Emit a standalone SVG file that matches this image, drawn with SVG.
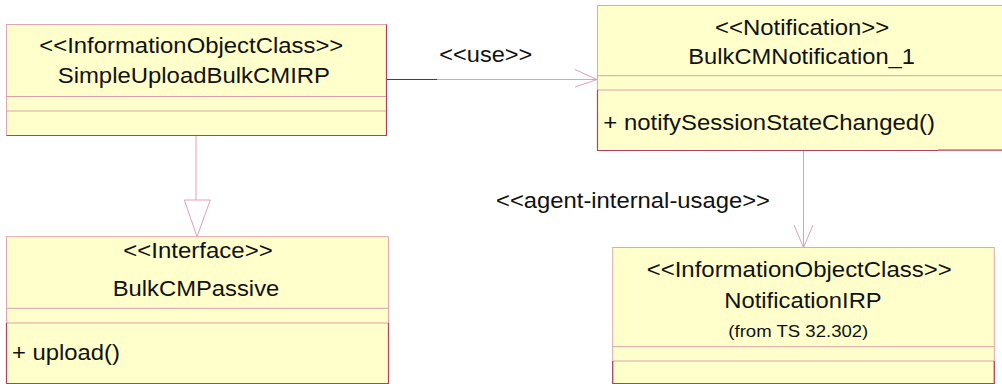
<svg xmlns="http://www.w3.org/2000/svg" width="1002" height="384" viewBox="0 0 1002 384">
<style>
.box{fill:#FFFFCC;stroke:#E2A6B2;stroke-width:1}
.dark{stroke:#B2405E;stroke-width:1.2;fill:none}
.div{stroke:#DDA0A8;stroke-width:1;fill:none}
.con{stroke:#E2A0B4;stroke-width:1;fill:none}
text{font-family:"Liberation Sans",Arial,sans-serif;font-size:21.5px;fill:#111}
.sm{font-size:16px}
</style>
<rect width="1002" height="384" fill="#FFFFFF"/>
<g id="connectors">
<line class="dark" x1="386" y1="79.5" x2="437" y2="79.5" style="stroke:#901848"/>
<line class="con" x1="437" y1="79.5" x2="597" y2="79.5"/>
<polyline class="con" points="575,69.5 597,79.5 575,87"/>
<text x="439.3" y="62.3" textLength="93" lengthAdjust="spacingAndGlyphs">&lt;&lt;use&gt;&gt;</text>
<line class="con" x1="196" y1="136" x2="196" y2="200"/>
<polygon class="con" points="184.3,200 210.3,200 197,236.7" fill="#FFFFFF"/>
<line class="con" x1="803.5" y1="151" x2="803.5" y2="247"/>
<polyline class="con" points="794,225 803.5,247.5 813,225"/>
<text x="496" y="208.3" textLength="274" lengthAdjust="spacingAndGlyphs">&lt;&lt;agent-internal-usage&gt;&gt;</text>
</g>
<g id="SimpleUploadBulkCMIRP">
<rect class="box" x="6.5" y="24.5" width="380" height="111"/>
<line class="div" x1="6.5" y1="96.5" x2="386.5" y2="96.5"/>
<line class="div" x1="6.5" y1="111" x2="386.5" y2="111"/>
<polyline class="dark" points="386.5,24.5 386.5,135.5 6.5,135.5"/>
<text x="39.3" y="53.3" textLength="304" lengthAdjust="spacingAndGlyphs">&lt;&lt;InformationObjectClass&gt;&gt;</text>
<text x="57.7" y="83.3" textLength="272.3" lengthAdjust="spacingAndGlyphs">SimpleUploadBulkCMIRP</text>
</g>
<g id="BulkCMNotification_1">
<rect class="box" x="597.5" y="5.5" width="420" height="145"/>
<line class="div" x1="597.5" y1="75.7" x2="1002" y2="75.7"/>
<line class="div" x1="597.5" y1="90" x2="1002" y2="90"/>
<polyline class="dark" points="597.5,90 597.5,150.5 938,150.5"/>
<line class="dark" x1="938" y1="150" x2="1002" y2="150"/>
<text x="715" y="35" textLength="174.3" lengthAdjust="spacingAndGlyphs">&lt;&lt;Notification&gt;&gt;</text>
<text x="688.3" y="64.3" textLength="226.7" lengthAdjust="spacingAndGlyphs">BulkCMNotification_1</text>
<text x="603.3" y="130" textLength="331.7" lengthAdjust="spacingAndGlyphs">+ notifySessionStateChanged()</text>
</g>
<g id="BulkCMPassive">
<rect class="box" x="6.5" y="236.7" width="382" height="147"/>
<line class="div" x1="6.5" y1="308.3" x2="388.5" y2="308.3"/>
<line class="div" x1="6.5" y1="323" x2="388.5" y2="323"/>
<polyline class="dark" points="6.5,323 6.5,383.5 388.5,383.5 388.5,323"/>
<text x="123.3" y="258.3" textLength="149.4" lengthAdjust="spacingAndGlyphs">&lt;&lt;Interface&gt;&gt;</text>
<text x="112.7" y="295.7" textLength="166.6" lengthAdjust="spacingAndGlyphs">BulkCMPassive</text>
<text x="12" y="360" textLength="108" lengthAdjust="spacingAndGlyphs">+ upload()</text>
</g>
<g id="NotificationIRP">
<rect class="box" x="612.7" y="247.5" width="381.6" height="136"/>
<line class="div" x1="612.7" y1="346.7" x2="994.3" y2="346.7"/>
<line class="div" x1="612.7" y1="361" x2="994.3" y2="361"/>
<polyline class="dark" points="612.7,361 612.7,383.5 994.3,383.5 994.3,361"/>
<text x="646.7" y="276.7" textLength="305" lengthAdjust="spacingAndGlyphs">&lt;&lt;InformationObjectClass&gt;&gt;</text>
<text x="724.3" y="307.7" textLength="157.4" lengthAdjust="spacingAndGlyphs">NotificationIRP</text>
<text class="sm" x="728.3" y="336.7" textLength="140" lengthAdjust="spacingAndGlyphs">(from TS 32.302)</text>
</g>
</svg>
